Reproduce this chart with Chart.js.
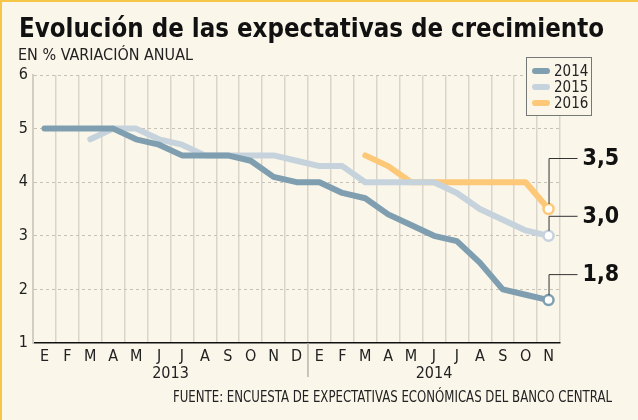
<!DOCTYPE html>
<html>
<head>
<meta charset="utf-8">
<script src="https://cdn.jsdelivr.net/npm/chart.js@4.4.1/dist/chart.umd.min.js"></script>
<style>
  html, body { margin: 0; padding: 0; background: #faf6ea; }
  #wrap { width: 638px; height: 420px; position: relative; }
</style>
</head>
<body>
<div id="wrap"><canvas id="expectativas" width="638" height="420"></canvas></div>
<script>
// months Jan 2013 .. Nov 2014
var months = ['E', 'F', 'M', 'A', 'M', 'J', 'J', 'A', 'S', 'O', 'N', 'D',
              'E', 'F', 'M', 'A', 'M', 'J', 'J', 'A', 'S', 'O', 'N'];
var years = ['2013', '2014'];
var yearStart = [0, 12];   // index of first month of each year
var seriesNames = ['2014', '2015', '2016'];

var exp2014 = [5.0, 5.0, 5.0, 5.0, 4.8, 4.7, 4.5, 4.5, 4.5, 4.4, 4.1, 4.0,
               4.0, 3.8, 3.7, 3.4, 3.2, 3.0, 2.9, 2.5, 2.0, 1.9, 1.8];
var exp2015 = [null, null, 4.8, 5.0, 5.0, 4.8, 4.7, 4.5, 4.5, 4.5, 4.5, 4.4,
               4.3, 4.3, 4.0, 4.0, 4.0, 4.0, 3.8, 3.5, 3.3, 3.1, 3.0];
var exp2016 = [null, null, null, null, null, null, null, null, null, null, null, null,
               null, null, 4.5, 4.3, 4.0, 4.0, 4.0, 4.0, 4.0, 4.0, 3.5];

var colors = ['#7f9fb1', '#c6d3dc', '#fdc878'];
var leaderUp = [17, 11, 42]; // how far above the end point the value label sits

var SANS = "'DejaVu Sans Condensed', 'DejaVu Sans', sans-serif";

// draw text squeezed to a given width
function fitText(ctx, text, x, y, w, font, color) {
  ctx.save();
  ctx.font = font;
  ctx.fillStyle = color;
  ctx.textAlign = 'left';
  ctx.textBaseline = 'alphabetic';
  var m = ctx.measureText(text).width;
  ctx.translate(x, y);
  ctx.scale(w / m, 1);
  ctx.fillText(text, 0, 0);
  ctx.restore();
}

var decorations = {
  id: 'decorations',
  beforeDraw: function (chart) {
    var ctx = chart.ctx;
    ctx.save();
    ctx.fillStyle = '#faf6ea';
    ctx.fillRect(0, 0, chart.width, chart.height);
    ctx.fillStyle = '#f7c548';
    ctx.fillRect(0, 0, chart.width, 2);
    ctx.fillRect(0, 0, 2, chart.height);
    ctx.restore();
  },
  afterDraw: function (chart) {
    var ctx = chart.ctx;
    var x = chart.scales.x;
    var area = chart.chartArea;

    fitText(ctx, 'Evolución de las expectativas de crecimiento', 19, 37, 585, 'bold 27px ' + SANS, '#111');
    fitText(ctx, 'EN % VARIACIÓN ANUAL', 18, 60, 175, '16px ' + SANS, '#222');
    fitText(ctx, 'FUENTE: ENCUESTA DE EXPECTATIVAS ECONÓMICAS DEL BANCO CENTRAL', 173, 402, 439, '16px ' + SANS, '#222');

    // year separator and year labels
    var sep = (x.getPixelForValue(11) + x.getPixelForValue(12)) / 2;
    ctx.save();
    ctx.strokeStyle = '#b9b5ab';
    ctx.lineWidth = 1.5;
    ctx.beginPath();
    ctx.moveTo(sep, area.bottom);
    ctx.lineTo(sep, 377);
    ctx.stroke();
    ctx.font = '16px ' + SANS;
    ctx.fillStyle = '#222';
    ctx.textAlign = 'center';
    for (var i = 0; i < years.length; i++) {
      var first = yearStart[i];
      var last = (i + 1 < years.length ? yearStart[i + 1] : months.length) - 1;
      var cx = (x.getPixelForValue(first) + x.getPixelForValue(last)) / 2;
      ctx.fillText(years[i], cx, 378);
    }
    ctx.restore();

    // value labels at the end of each line
    chart.data.datasets.forEach(function (ds, i) {
      var meta = chart.getDatasetMeta(i);
      var p = meta.data[meta.data.length - 1];
      var v = ds.data[ds.data.length - 1];
      var ly = p.y - leaderUp[i] - 9;
      ctx.save();
      ctx.strokeStyle = '#333';
      ctx.lineWidth = 1;
      ctx.beginPath();
      ctx.moveTo(p.x + 0.5, p.y - 5);
      ctx.lineTo(p.x + 0.5, ly + 0.5);
      ctx.lineTo(p.x + 29, ly + 0.5);
      ctx.stroke();
      ctx.font = 'bold 23px ' + SANS;
      ctx.fillStyle = '#111';
      ctx.textBaseline = 'middle';
      ctx.fillText(v.toFixed(1).replace('.', ','), p.x + 34, ly + 1);
      ctx.restore();
    });

    // legend box
    ctx.save();
    ctx.fillStyle = '#faf6ea';
    ctx.fillRect(526, 57, 65, 58);
    ctx.strokeStyle = '#777';
    ctx.lineWidth = 1;
    ctx.strokeRect(526.5, 57.5, 65, 58);
    ctx.lineCap = 'round';
    ctx.lineWidth = 6;
    ctx.font = '15px ' + SANS;
    ctx.textBaseline = 'middle';
    for (var k = 0; k < seriesNames.length; k++) {
      var ry = 71 + k * 16;
      ctx.strokeStyle = colors[k];
      ctx.beginPath();
      ctx.moveTo(535, ry);
      ctx.lineTo(547, ry);
      ctx.stroke();
      ctx.fillStyle = '#222';
      ctx.fillText(seriesNames[k], 554, ry + 1);
    }
    ctx.restore();
  }
};

function makeSet(label, data, color) {
  return {
    label: label,
    data: data,
    borderColor: color,
    backgroundColor: color,
    borderWidth: 6,
    borderCapStyle: 'round',
    borderJoinStyle: 'round',
    tension: 0,
    fill: false,
    pointRadius: function (c) { return c.dataIndex === data.length - 1 ? 5 : 0; },
    pointBorderWidth: 2.5,
    pointBorderColor: color,
    pointBackgroundColor: '#ffffff',
    pointHoverRadius: 0
  };
}

document.addEventListener('DOMContentLoaded', function () {
  var ctx = document.getElementById('expectativas').getContext('2d');
  var myChart = new Chart(ctx, {
    type: 'line',
    data: {
      labels: months,
      datasets: [
        makeSet(seriesNames[0], exp2014, colors[0]),
        makeSet(seriesNames[1], exp2015, colors[1]),
        makeSet(seriesNames[2], exp2016, colors[2])
      ]
    },
    plugins: [decorations],
    options: {
      responsive: false,
      animation: false,
      devicePixelRatio: 1,
      layout: { padding: { top: 75, right: 78, left: 0, bottom: 0 } },
      scales: {
        x: {
          offset: true,
          grid: { offset: true, color: '#d9d5cb', lineWidth: 1.5, drawTicks: false },
          border: { display: true, color: '#111', width: 1.5 },
          ticks: { color: '#222', font: { family: SANS, size: 16 }, padding: 4, autoSkip: false, maxRotation: 0 },
          afterFit: function (s) { s.height = 77; }
        },
        y: {
          min: 1,
          max: 6,
          ticks: { stepSize: 1, color: '#222', font: { family: SANS, size: 16 }, padding: 5 },
          grid: {
            color: function (c) { return c.tick && c.tick.value === 1 ? 'rgba(0,0,0,0)' : '#c6c2b8'; },
            lineWidth: 1,
            drawTicks: false
          },
          border: { display: true, color: '#d2cec4', width: 2, dash: [3, 3] },
          afterFit: function (s) { s.width = 33; }
        }
      },
      plugins: {
        legend: { display: false },
        tooltip: { enabled: false }
      }
    }
  });
});
</script>
</body>
</html>
